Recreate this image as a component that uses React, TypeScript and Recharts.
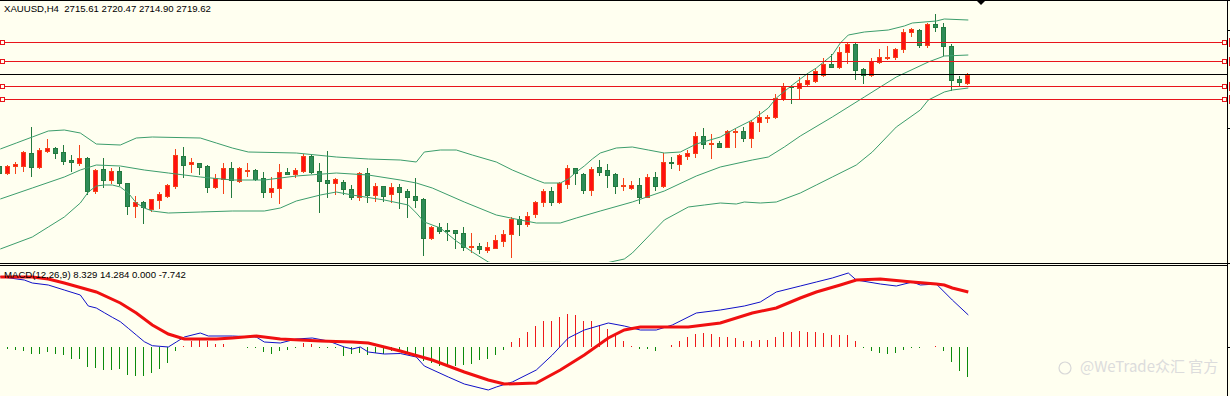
import { ComposedChart, Bar, Line, XAxis, YAxis, ReferenceLine } from "recharts";

// XAUUSD H4 candles, [open, high, low, close]
const ohlc: [number, number, number, number][] = [
  [2673.9, 2674.4, 2669.9, 2670.4], [2670.4, 2674.4, 2669.9, 2673.9], [2673.9, 2675.9, 2670.4, 2674.9],
  [2673.9, 2681.4, 2671.4, 2680.9], [2680.4, 2693.4, 2668.9, 2673.4], [2673.4, 2682.9, 2672.9, 2681.9],
  [2681.4, 2687.4, 2680.9, 2682.9], [2682.9, 2683.4, 2677.9, 2680.4], [2680.9, 2684.4, 2674.9, 2676.4],
  [2676.9, 2679.4, 2671.4, 2675.9], [2675.4, 2684.4, 2674.4, 2677.9], [2677.9, 2678.4, 2659.9, 2661.4],
  [2661.4, 2672.4, 2660.4, 2671.9], [2672.4, 2677.9, 2663.4, 2666.9], [2666.9, 2672.9, 2665.4, 2671.4],
  [2671.4, 2673.4, 2664.4, 2665.4], [2665.4, 2665.4, 2649.9, 2653.9], [2653.9, 2658.9, 2648.4, 2655.9],
  [2655.9, 2656.4, 2645.4, 2653.4], [2652.4, 2657.4, 2651.4, 2657.4], [2656.9, 2660.9, 2652.9, 2659.9],
  [2658.9, 2664.9, 2658.4, 2664.4], [2663.9, 2682.4, 2662.9, 2679.4], [2678.9, 2683.4, 2668.4, 2674.4],
  [2674.9, 2677.9, 2670.9, 2675.9], [2675.4, 2675.4, 2669.9, 2673.4], [2673.9, 2674.4, 2660.9, 2663.4],
  [2663.4, 2669.9, 2662.9, 2667.9], [2667.4, 2675.4, 2660.4, 2672.9], [2672.9, 2675.9, 2658.4, 2666.9],
  [2666.4, 2673.4, 2665.9, 2672.9], [2671.4, 2675.4, 2668.9, 2671.9], [2671.9, 2672.4, 2666.9, 2667.4],
  [2667.9, 2670.9, 2658.4, 2660.9], [2660.9, 2668.4, 2658.4, 2662.9], [2662.9, 2674.9, 2655.4, 2670.9],
  [2670.9, 2672.9, 2669.9, 2669.9], [2669.9, 2672.9, 2668.4, 2671.9], [2671.4, 2679.9, 2670.9, 2678.9],
  [2678.9, 2679.9, 2670.4, 2670.9], [2671.4, 2675.4, 2650.9, 2666.4], [2666.9, 2681.4, 2658.4, 2665.4],
  [2665.4, 2667.9, 2659.9, 2667.4], [2665.9, 2666.9, 2659.9, 2662.4], [2662.4, 2664.4, 2657.4, 2658.4],
  [2658.4, 2670.9, 2656.9, 2670.4], [2670.4, 2672.9, 2655.9, 2659.4], [2659.4, 2665.4, 2656.4, 2663.9],
  [2663.9, 2663.9, 2656.4, 2658.9], [2659.9, 2665.4, 2655.9, 2663.4], [2663.4, 2664.9, 2652.9, 2660.9],
  [2661.4, 2662.4, 2648.4, 2658.4], [2658.9, 2667.9, 2653.4, 2656.9], [2657.4, 2657.9, 2629.4, 2637.9],
  [2637.9, 2643.9, 2637.4, 2643.4], [2643.4, 2645.4, 2640.4, 2641.4], [2641.9, 2645.4, 2636.9, 2641.4],
  [2641.9, 2641.9, 2632.9, 2640.4], [2640.4, 2643.4, 2631.9, 2633.4], [2633.4, 2640.4, 2630.9, 2633.9],
  [2633.9, 2635.4, 2630.4, 2632.4], [2631.9, 2635.9, 2630.9, 2633.4], [2632.9, 2639.4, 2632.9, 2636.9],
  [2636.4, 2641.9, 2633.9, 2639.9], [2639.9, 2648.4, 2628.4, 2647.4], [2647.4, 2648.9, 2639.4, 2644.9],
  [2644.9, 2650.9, 2643.9, 2648.9], [2649.9, 2656.4, 2648.4, 2655.9], [2655.9, 2662.4, 2653.9, 2661.4],
  [2661.4, 2663.4, 2654.4, 2655.9], [2655.9, 2665.9, 2655.4, 2665.4], [2664.9, 2674.4, 2662.9, 2672.9],
  [2672.9, 2672.9, 2664.9, 2670.4], [2669.9, 2670.4, 2660.4, 2661.9], [2661.9, 2673.4, 2659.4, 2672.4],
  [2673.4, 2676.9, 2669.4, 2670.9], [2671.9, 2674.9, 2663.4, 2669.4], [2669.9, 2670.4, 2660.4, 2663.9],
  [2663.9, 2667.9, 2661.9, 2664.4], [2662.9, 2666.4, 2662.4, 2664.4], [2664.4, 2667.9, 2655.4, 2658.4],
  [2658.4, 2669.9, 2658.4, 2668.4], [2668.4, 2670.9, 2661.9, 2663.9], [2663.9, 2680.4, 2663.4, 2675.9],
  [2675.9, 2678.4, 2672.9, 2675.4], [2674.9, 2679.9, 2671.9, 2679.4], [2678.9, 2681.9, 2677.4, 2680.4],
  [2680.4, 2690.9, 2678.4, 2688.9], [2688.9, 2692.9, 2682.9, 2684.9], [2684.9, 2689.9, 2677.9, 2685.4],
  [2685.4, 2686.4, 2683.4, 2683.4], [2683.4, 2691.9, 2683.4, 2691.4], [2690.9, 2692.4, 2683.4, 2691.4],
  [2691.4, 2693.4, 2686.4, 2687.9], [2687.9, 2696.9, 2683.4, 2695.9], [2695.9, 2701.4, 2691.4, 2698.4],
  [2697.9, 2699.4, 2695.9, 2698.4], [2698.4, 2709.9, 2697.9, 2707.9], [2707.4, 2715.4, 2706.9, 2713.4],
  [2713.9, 2714.4, 2705.4, 2713.4], [2712.9, 2718.4, 2707.9, 2715.4], [2714.9, 2720.4, 2713.9, 2716.9],
  [2716.4, 2722.9, 2715.9, 2721.4], [2719.4, 2727.9, 2718.9, 2724.9], [2724.9, 2729.9, 2723.4, 2723.4],
  [2723.4, 2733.4, 2722.9, 2730.9], [2730.9, 2735.4, 2725.4, 2734.9], [2734.9, 2735.4, 2717.4, 2721.9],
  [2722.4, 2722.9, 2715.4, 2719.4], [2719.4, 2727.9, 2718.9, 2726.4], [2725.9, 2732.4, 2725.4, 2728.4],
  [2727.9, 2733.9, 2727.4, 2728.4], [2728.4, 2732.9, 2727.4, 2732.4], [2732.4, 2742.4, 2730.9, 2740.9],
  [2740.9, 2742.9, 2738.9, 2742.4], [2741.9, 2742.4, 2733.4, 2734.4], [2734.4, 2745.4, 2733.4, 2744.9],
  [2744.9, 2749.9, 2741.4, 2743.4], [2743.4, 2745.4, 2729.4, 2733.9], [2733.9, 2734.9, 2711.9, 2716.9],
  [2717.4, 2718.9, 2713.9, 2715.9], [2715.61, 2720.47, 2714.9, 2719.62],
];

// Bollinger bands, [candle index, price]
const upperBand: [number, number][] = [
  [0, 2682.4], [2, 2685.4], [4, 2688.4], [6, 2691.4], [8, 2691.9], [10, 2690.4], [12, 2684.9], [15, 2684.4],
  [17, 2687.9], [19, 2688.4], [25, 2687.9], [27, 2685.4], [29, 2682.9], [31, 2680.9], [37, 2680.4], [42, 2678.4],
  [46, 2677.4], [50, 2676.9], [52, 2675.9], [53, 2680.9], [55, 2681.9], [57, 2681.9], [59, 2679.4], [62, 2675.9],
  [64, 2671.9], [67, 2666.9], [68, 2665.4], [70, 2665.4], [71, 2667.4], [72, 2670.9], [73, 2673.9], [74, 2677.4],
  [75, 2680.4], [77, 2682.9], [79, 2683.4], [81, 2681.9], [83, 2680.4], [85, 2680.9], [87, 2684.9], [90, 2688.4],
  [92, 2692.9], [94, 2696.9], [96, 2702.9], [97, 2707.9], [99, 2714.4], [101, 2720.4], [102, 2722.9], [104, 2729.4],
  [105, 2735.4], [106, 2739.4], [108, 2740.9], [111, 2741.9], [113, 2743.9], [114, 2745.4], [117, 2746.4],
  [118, 2747.4], [121, 2746.9],
];
const middleBand: [number, number][] = [
  [0, 2657.4], [4, 2662.9], [8, 2668.4], [10, 2671.9], [12, 2674.4], [15, 2673.9], [18, 2671.9], [21, 2670.4],
  [25, 2668.4], [29, 2666.9], [33, 2666.9], [35, 2667.9], [37, 2668.9], [42, 2670.4], [46, 2669.4], [50, 2666.9],
  [52, 2665.4], [54, 2662.9], [58, 2655.9], [62, 2649.4], [65, 2646.9], [67, 2645.4], [70, 2645.4], [72, 2647.9],
  [75, 2651.4], [79, 2655.9], [83, 2661.4], [87, 2668.9], [90, 2673.4], [94, 2676.9], [96, 2678.4], [98, 2683.4],
  [100, 2688.9], [104, 2698.4], [108, 2708.4], [112, 2718.4], [116, 2725.9], [118, 2728.9], [121, 2729.4],
];
const lowerBand: [number, number][] = [
  [0, 2632.4], [4, 2638.4], [6, 2643.4], [8, 2648.4], [10, 2655.4], [11, 2660.9], [12, 2663.9], [13, 2664.4],
  [14, 2664.4], [15, 2663.4], [16, 2660.4], [17, 2655.4], [18, 2652.9], [19, 2651.4], [21, 2650.4], [25, 2650.9],
  [29, 2651.4], [33, 2651.4], [35, 2652.9], [37, 2656.4], [40, 2659.4], [42, 2660.9], [44, 2659.4], [48, 2656.9],
  [51, 2654.4], [52, 2650.4], [53, 2645.9], [55, 2642.9], [57, 2636.4], [59, 2630.9], [61, 2625.9], [63, 2623.9],
  [66, 2625.7], [70, 2625.7], [74, 2623.9], [78, 2627.4], [79, 2630.4], [83, 2646.9], [86, 2653.4], [88, 2654.4],
  [90, 2655.4], [92, 2654.9], [93, 2655.9], [95, 2655.4], [97, 2655.9], [100, 2660.4], [102, 2664.4], [104, 2668.4],
  [107, 2674.4], [109, 2680.9], [112, 2693.4], [115, 2701.9], [116, 2706.9], [118, 2710.9], [119, 2711.9], [121, 2712.9],
];

// MACD(12,26,9)
const macdLine: [number, number][] = [
  [0, 18.28], [3, 17.42], [4, 16.64], [6, 16.12], [8, 14.82], [10, 13.52], [11, 10.66], [12, 10.14], [13, 8.92],
  [14, 7.72], [15, 6.58], [16, 4.86], [17, 3.12], [18, 1.38], [19, 0.34], [21, 0], [22, 1.3], [23, 2.6], [25, 3.64],
  [26, 2.86], [29, 2.86], [32, 2.6], [33, 1.3], [35, 1.04], [37, 2.08], [39, 2.34], [41, 1.56], [43, 0], [44, -0.52],
  [45, 0], [46, -1.3], [48, -1.82], [50, -1.69], [52, -2.6], [53, -4.94], [56, -7.8], [58, -9.62], [61, -11.18],
  [62, -10.4], [64, -9.1], [67, -5.98], [69, -2.08], [71, 2.34], [73, 4.42], [76, 6.24], [78, 5.46], [80, 4.42],
  [82, 4.42], [84, 5.72], [87, 8.84], [90, 9.62], [93, 10.66], [95, 11.7], [97, 14.3], [100, 15.86], [102, 16.9],
  [104, 17.94], [106, 19.24], [107, 17.42], [110, 16.38], [112, 15.86], [114, 16.9], [115, 16.12], [117, 16.38],
  [119, 12.22], [121, 8.329],
];
const signalLine: [number, number][] = [
  [0, 18.2], [4, 18.2], [6, 17.68], [8, 16.64], [12, 14.3], [15, 11.44], [17, 8.84], [19, 5.72], [21, 3.38],
  [23, 2.08], [27, 2.08], [29, 2.34], [32, 2.86], [35, 2.08], [40, 1.56], [44, 1.3], [46, 1.04], [48, 0],
  [50, -1.04], [54, -3.38], [58, -6.5], [61, -8.58], [63, -9.62], [67, -9.36], [70, -5.98], [73, -2.08], [76, 2.34],
  [78, 4.42], [80, 5.2], [86, 5.2], [90, 6.24], [94, 8.84], [97, 10.14], [100, 12.74], [102, 14.3], [105, 16.12],
  [107, 17.42], [110, 17.68], [114, 16.9], [117, 16.38], [118, 16.12], [119, 15.34], [121, 14.284],
];
const histogram = [
  0.13, -0.52, -0.78, -1.04, -1.82, -1.82, -1.3, -1.82, -2.08, -3.12,
  -3.12, -5.2, -5.46, -5.98, -5.98, -5.72, -7.28, -7.54, -7.54, -6.76,
  -5.72, -4.16, -1.04, 0.26, 1.56, 2.08, 1.56, 0.78, 0.78, 0,
  0, -0.26, -0.26, -1.3, -1.82, -1.04, -0.78, -0.26, 1.04, 0.78,
  -0.13, -0.13, -0.13, -2.34, -1.82, -1.56, -2.08, -1.56, -1.82, -1.04,
  -1.04, -1.3, -1.82, -3.64, -4.16, -4.94, -4.94, -4.94, -4.68, -4.42,
  -3.38, -3.12, -2.08, -0.78, 1.3, 2.34, 3.9, 5.46, 6.76, 6.76,
  7.8, 8.58, 8.32, 6.76, 6.76, 5.72, 4.68, 3.12, 1.56, 0.26,
  -0.52, -0.52, -1.04, 0, 0.52, 1.56, 2.6, 3.38, 3.64, 3.38,
  2.6, 2.6, 2.34, 1.56, 1.56, 1.82, 1.82, 2.6, 3.9, 3.9,
  4.16, 3.9, 3.9, 3.64, 3.12, 3.12, 3.12, 1.56, -0.26, -1.04,
  -1.56, -1.82, -1.56, -0.78, -0.26, -0.26, 0, 0.26, -1.04, -3.9,
  -6.24, -7.742,
];

const levels = [2735.65, 2726.15, 2713.65, 2707.15];
const bid = 2719.62;

const X_DOMAIN: [number, number] = [-0.0375, 153.3375];
const PRICE_DOMAIN: [number, number] = [2625.9, 2756.4];
const MACD_DOMAIN: [number, number] = [-12.74, 21.06];

const BG = "#fffff0";
const BAND = "#3c9d6c";
const LEVEL = "#e8141b";
const HIST_UP = "#ee1a1a";
const HIST_DOWN = "#0a8a0a";

type Row = {
  i: number; o: number; h: number; l: number; c: number;
  up: number | null; mid: number | null; lo: number | null;
  macd: number | null; signal: number | null; hist: number;
};

const rows: Row[] = ohlc.map(([o, h, l, c], i) => ({
  i, o, h, l, c, up: null, mid: null, lo: null, macd: null, signal: null, hist: histogram[i],
}));
upperBand.forEach(([i, v]) => (rows[i].up = v));
middleBand.forEach(([i, v]) => (rows[i].mid = v));
lowerBand.forEach(([i, v]) => (rows[i].lo = v));
macdLine.forEach(([i, v]) => (rows[i].macd = v));
signalLine.forEach(([i, v]) => (rows[i].signal = v));

function Candle(props: any) {
  const { x, y, width, height, payload } = props;
  if (!payload) return null;
  const { o, h, l, c } = payload as Row;
  const top = Math.min(y, y + height);
  const bottom = Math.max(y, y + height);
  const k = h === l ? 0 : (bottom - top) / (h - l);
  const py = (v: number) => top + (h - v) * k;
  const cx = Math.floor(x + width / 2) + 0.5;
  const bull = c >= o;
  const wick = bull ? "#f5431a" : "#237a3e";
  const fill = bull ? "#ff1010" : "#2e8b57";
  const bTop = Math.round(py(Math.max(o, c))) + 0.5;
  const bBot = Math.round(py(Math.min(o, c))) + 0.5;
  return (
    <g>
      <line x1={cx} x2={cx} y1={Math.round(top)} y2={Math.round(bottom) + 1} stroke={wick} strokeWidth={1} />
      {bBot - bTop < 1 ? (
        <line x1={cx - 2.5} x2={cx + 2.5} y1={bTop} y2={bTop} stroke={wick} strokeWidth={1} />
      ) : (
        <rect x={cx - 2} y={bTop} width={4} height={bBot - bTop} fill={fill} stroke={wick} strokeWidth={1} />
      )}
    </g>
  );
}

// histogram bar drawn from the range [0, hist]; colour taken from the sign
function HistBar(props: any) {
  const { x, y, width, height, payload } = props;
  if (!payload || !payload.hist) return null;
  const top = Math.min(y, y + height);
  const bottom = Math.max(y, y + height);
  const cx = Math.floor(x + width / 2) + 0.5;
  const color = payload.hist >= 0 ? HIST_UP : HIST_DOWN;
  return (
    <line
      x1={cx} x2={cx} y1={Math.round(top)} y2={Math.max(Math.round(bottom), Math.round(top) + 1)}
      stroke={color} strokeWidth={1}
    />
  );
}

function LevelLine(props: any) {
  const { x1, x2, y1 } = props;
  const yy = Math.floor(y1) + 0.5;
  return (
    <g>
      <line x1={x1} x2={x2} y1={yy} y2={yy} stroke={LEVEL} strokeWidth={1} />
      <rect x={0.5} y={yy - 2} width={4} height={4} fill={BG} stroke={LEVEL} strokeWidth={1} />
      <rect x={x2 - 4.5} y={yy - 2} width={4} height={4} fill={BG} stroke={LEVEL} strokeWidth={1} />
    </g>
  );
}

function BidLine(props: any) {
  const { x1, x2, y1 } = props;
  const yy = Math.floor(y1) + 0.5;
  return <line x1={x1} x2={x2 + 3} y1={yy} y2={yy} stroke="#000" strokeWidth={1} />;
}

function PriceChart() {
  return (
    <ComposedChart width={1227} height={262} data={rows} margin={{ top: 1, right: 0, bottom: 0, left: 0 }}>
      <XAxis type="number" dataKey="i" domain={X_DOMAIN} hide allowDataOverflow />
      <YAxis domain={PRICE_DOMAIN} hide allowDataOverflow />
      <Line dataKey="up" stroke={BAND} strokeWidth={1} dot={false} connectNulls isAnimationActive={false} />
      <Line dataKey="mid" stroke={BAND} strokeWidth={1} dot={false} connectNulls isAnimationActive={false} />
      <Line dataKey="lo" stroke={BAND} strokeWidth={1} dot={false} connectNulls isAnimationActive={false} />
      <Bar dataKey={(d: Row) => [d.l, d.h]} barSize={5} shape={<Candle />} isAnimationActive={false} />
      {levels.map((v) => (
        <ReferenceLine key={v} y={v} shape={<LevelLine />} />
      ))}
      <ReferenceLine y={bid} shape={<BidLine />} />
    </ComposedChart>
  );
}

function MacdChart() {
  return (
    <ComposedChart width={1227} height={130} data={rows} margin={{ top: 0, right: 0, bottom: 0, left: 0 }}>
      <XAxis type="number" dataKey="i" domain={X_DOMAIN} hide allowDataOverflow />
      <YAxis domain={MACD_DOMAIN} hide allowDataOverflow />
      <Bar
        dataKey={(d: Row) => [0, d.hist]}
        barSize={3}
        shape={<HistBar />}
        isAnimationActive={false}
      />
      <Line dataKey="macd" stroke="#1010c8" strokeWidth={1} dot={false} connectNulls isAnimationActive={false} />
      <Line dataKey="signal" stroke="#f01010" strokeWidth={3} dot={false} connectNulls isAnimationActive={false} />
    </ComposedChart>
  );
}

export default function App() {
  return (
    <div
      style={{
        position: "absolute", left: 0, top: 0, width: 1230, height: 396,
        background: BG, overflow: "hidden",
      }}
    >
      <div style={{ position: "absolute", left: 0, top: 0 }}>
        <PriceChart />
      </div>
      <div style={{ position: "absolute", left: 0, top: 266 }}>
        <MacdChart />
      </div>
      <svg
        width={1230}
        height={396}
        style={{ position: "absolute", left: 0, top: 0, pointerEvents: "none" }}
        fontFamily="'Liberation Sans', Arial, sans-serif"
      >
        <line x1={0} x2={1230} y1={0.5} y2={0.5} stroke="#000" />
        <line x1={0} x2={1230} y1={263.5} y2={263.5} stroke="#000" />
        <line x1={0} x2={1228} y1={265.5} y2={265.5} stroke="#000" />
        <line x1={1227.5} x2={1227.5} y1={0} y2={396} stroke="#000" />
        <polygon points="976,0 986,0 981,5" fill="#000" />
        <line x1={1228} x2={1230} y1={30.5} y2={30.5} stroke="#000" />
        <line x1={1228} x2={1230} y1={128.5} y2={128.5} stroke="#000" />
        <line x1={1228} x2={1230} y1={347.5} y2={347.5} stroke="#000" />
        {[42, 61, 86, 99].map((r) => (
          <rect key={r} x={1229} y={r - 4} width={1} height={9} fill={LEVEL} />
        ))}
        <text x={4} y={11.7} fontSize={9.6} fill="#000" style={{ whiteSpace: "pre" }}>
          {"XAUUSD,H4  2715.61 2720.47 2714.90 2719.62"}
        </text>
        <text x={4} y={278.3} fontSize={9.6} fill="#000" style={{ whiteSpace: "pre" }}>
          {"MACD(12,26,9) 8.329 14.284 0.000 -7.742"}
        </text>
        <circle cx={1065} cy={368} r={6} fill="none" stroke="#d8d8d8" strokeWidth={1.2} />
        <text x={1080} y={372} fontSize={15} fill="#dcdcdc" fontFamily="'Noto Sans CJK SC', 'Noto Sans', sans-serif">
          @WeTrade众汇 官方
        </text>
      </svg>
    </div>
  );
}
